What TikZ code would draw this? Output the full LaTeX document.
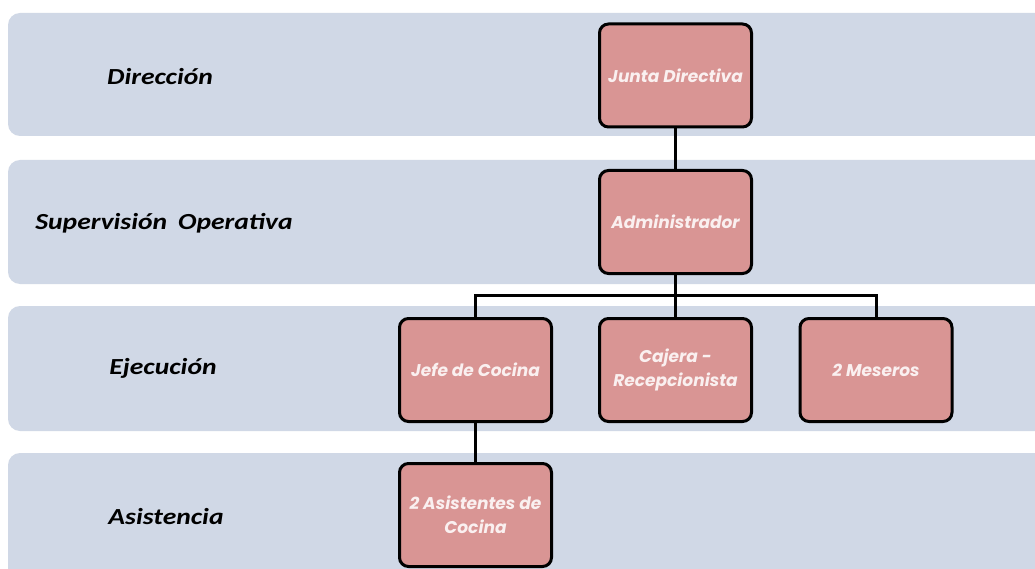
\documentclass[tikz,border=0pt]{standalone}
\usepackage{graphicx}
\usepackage{fontspec}
\setmainfont{Carlito}
\newfontfamily\boxfont{Poppins}
\definecolor{bandcol}{RGB}{208,216,230}
\definecolor{boxcol}{RGB}{217,149,148}
\definecolor{boxtext}{RGB}{250,240,240}
\newcommand{\widen}[1]{\scalebox{1.2}[1]{#1}}
\tikzset{
  band/.style={fill=bandcol, draw=none, rounded corners=12pt},
  unit/.style={draw=black, fill=boxcol, line width=3pt, rounded corners=9pt,
    minimum width=152pt, minimum height=103pt, align=center, text=boxtext,
    font=\boxfont\bfseries\itshape\fontsize{17}{24}\selectfont, inner sep=2pt},
  level/.style={font=\bfseries\itshape\fontsize{23}{26}\selectfont, text=black, anchor=center},
  conn/.style={draw=black, line width=3pt}
}
\begin{document}
\begin{tikzpicture}[x=1pt,y=-1pt]
\useasboundingbox (0,0) rectangle (1035,569);
\clip (0,0) rectangle (1035,569);
\fill[white] (0,0) rectangle (1035,569);
\fill[band] (8,13) rectangle (1060,136);
\fill[band] (8,160) rectangle (1060,284);
\fill[band] (8,306) rectangle (1060,431);
\fill[band] (8,453) rectangle (1060,600);

\node[level] (l1) at (160,77) {\widen{Dirección}};
\node[level] (l2) at (164,223) {\widen{Supervisión\, Operativa}};
\node[level] (l3) at (163,368) {\widen{Ejecución}};
\node[level] (l4) at (166,517) {\widen{Asistencia}};

\node[unit] (junta) at (675.5,75.5) {Junta Directiva};
\node[unit] (admin) at (675.5,222) {Administrador};
\node[unit] (jefe) at (475.5,370) {Jefe de Cocina};
\node[unit] (cajera) at (675.5,370) {Cajera -\\Recepcionista};
\node[unit] (meseros) at (876,370) {2 Meseros};
\node[unit] (asist) at (475.5,515) {2 Asistentes de\\Cocina};
\coordinate (bar) at (675.5,295);

\draw[conn] (junta.south) -- (admin.north);
\draw[conn] (admin.south) -- (bar);
\draw[conn] (bar) -| (jefe.north);
\draw[conn] (bar) -| (meseros.north);
\draw[conn] (bar) -- (cajera.north);
\draw[conn] (jefe.south) -- (asist.north);
\end{tikzpicture}
\end{document}
